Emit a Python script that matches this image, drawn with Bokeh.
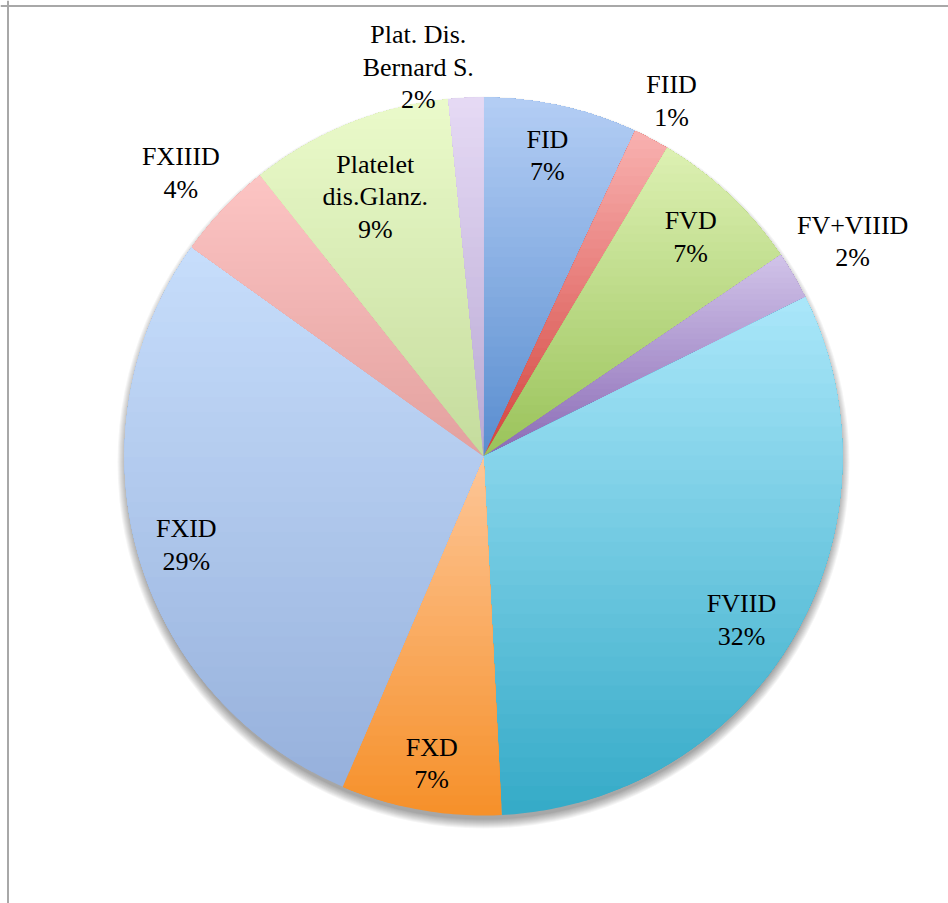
import numpy as np
from bokeh.plotting import figure
from bokeh.models import Range1d, Span, ColumnDataSource
from bokeh.core.properties import value
from bokeh.embed import file_html
from bokeh.resources import INLINE

# ---------------- data ----------------
categories = ["FID", "FIID", "FVD", "FV+VIIID", "FVIID", "FXD", "FXID",
              "FXIIID", "Platelet\ndis.Glanz.", "Plat. Dis.\nBernard S."]
shares = [6.94, 1.61, 6.97, 2.17, 31.5, 7.22, 28.5, 4.42, 9.11, 1.56]
pct_labels = ["7%", "1%", "7%", "2%", "32%", "7%", "29%", "4%", "9%", "2%"]

# ---------------- style ----------------
top_colors = ["#b3cdf4", "#f8b0af", "#dcf0b2", "#d0c2e8", "#a9e6f9",
              "#fdc596", "#c6ddfb", "#fcc4c3", "#eafaca", "#e5d9f4"]
bottom_colors = ["#5a8ed0", "#d4453f", "#9ac35a", "#8b6cb6", "#36abc8",
                 "#f6912b", "#97b1dc", "#e3a19f", "#c5dc9d", "#b9a9d4"]
# label radius (fraction of pie radius) and angular nudge (degrees)
label_r = [0.857, 1.12, 0.841, 1.19, 0.851, 0.867, 0.864, 1.155, 0.784, 1.10]
label_nudge = [-0.5, 0.0, 0.0, 0.0, 2.0, -0.5, -1.0, -0.5, -0.6, -6.7]

PX = 359.0          # pixels per data unit (pie radius)
W, H = 948, 903
CX, CY = 483.0, 456.0


def hex_rgb(h):
    h = h.lstrip("#")
    return np.array([int(h[i:i + 2], 16) for i in (0, 2, 4)], dtype=float)


def mix(c0, c1, t):
    a, b = hex_rgb(c0), hex_rgb(c1)
    c = a + (b - a) * t
    return "#%02x%02x%02x" % tuple(int(round(v)) for v in c)


def clip_above(pts, c):
    out = []
    n = len(pts)
    for i in range(n):
        P = pts[i]
        Q = pts[(i + 1) % n]
        pin = P[1] >= c
        qin = Q[1] >= c
        if pin:
            out.append(P)
        if pin != qin:
            t = (c - P[1]) / (Q[1] - P[1])
            out.append((P[0] + t * (Q[0] - P[0]), c))
    return out


p = figure(width=W, height=H, output_backend="svg", toolbar_location=None,
           x_range=Range1d(-CX / PX, (W - CX) / PX),
           y_range=Range1d(-(H - CY) / PX, CY / PX),
           min_border=0)
p.axis.visible = False
p.grid.visible = False
p.outline_line_color = None
p.background_fill_color = "white"
p.border_fill_color = "white"

# frame lines (top and left of the original chart box)
p.add_layout(Span(location=(CY - 5.5) / PX, dimension="width",
                  line_color="#a8a8a8", line_width=2))
p.add_layout(Span(location=(7.5 - CX) / PX, dimension="height",
                  line_color="#a8a8a8", line_width=2))

# soft shadow under the pie (offset downward)
for k in range(10, 0, -1):
    p.circle(x=[0], y=[-6.0 / PX], radius=1 + (k - 3) / PX,
             fill_color="black", fill_alpha=0.04, line_color=None)

# slices with vertical gradient
total = float(sum(shares))
xs, ys, cols = [], [], []
start = 0.0
mids = []
NL = 36
for i, s in enumerate(shares):
    span = 360.0 * s / total
    a0, a1 = start, start + span
    mids.append((a0 + a1) / 2)
    n = max(6, int(span * 1.5))
    t = np.radians(np.linspace(a0, a1, n))
    pts = [(0.0, 0.0)] + [(float(np.sin(v)), float(np.cos(v))) for v in t]
    ymin = min(q[1] for q in pts)
    ymax = max(q[1] for q in pts)
    for k in range(NL):
        c = ymin + (ymax - ymin) * k / NL
        poly = pts if k == 0 else clip_above(pts, c)
        if len(poly) < 3:
            continue
        xs.append([q[0] for q in poly])
        ys.append([q[1] for q in poly])
        cols.append(mix(bottom_colors[i], top_colors[i], k / (NL - 1)))
    start = a1

p.patches(xs=xs, ys=ys, fill_color=cols, line_color=None)

# labels
LS = 32.5 / PX
tx, ty, tt = [], [], []
for i, cat in enumerate(categories):
    lines = cat.split("\n") + [pct_labels[i]]
    ang = np.radians(mids[i] + label_nudge[i])
    lx = label_r[i] * np.sin(ang)
    ly = label_r[i] * np.cos(ang)
    nlines = len(lines)
    for j, ln in enumerate(lines):
        tx.append(float(lx))
        ty.append(float(ly - (j - (nlines - 1) / 2) * LS))
        tt.append(ln)

src = ColumnDataSource(dict(x=tx, y=ty, text=tt))
p.text(x="x", y="y", text="text", source=src,
       text_font=value("Liberation Serif"), text_font_size="26px",
       text_color="black", text_align="center", text_baseline="middle")

open("out.html", "w").write(file_html(p, INLINE))
